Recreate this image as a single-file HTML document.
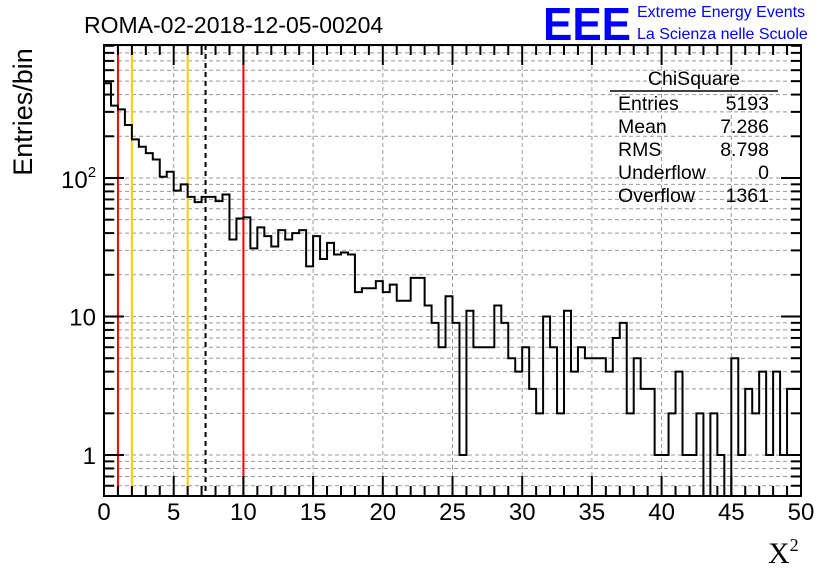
<!DOCTYPE html>
<html><head><meta charset="utf-8"><style>
body{margin:0;background:#fff;}
svg{display:block;font-family:"Liberation Sans",sans-serif;}
</style></head><body>
<svg id="c" width="836" height="572" viewBox="0 0 836 572">
<rect width="836" height="572" fill="#fff"/>
<text x="84" y="33" font-size="23" fill="#000">ROMA-02-2018-12-05-00204</text>
<text x="543" y="40" font-size="46" font-weight="bold" fill="#0000ff" textLength="88" lengthAdjust="spacingAndGlyphs">EEE</text>
<text x="637" y="17" font-size="16" fill="#0000ff">Extreme Energy Events</text>
<text x="637" y="39" font-size="16" fill="#0000ff">La Scienza nelle Scuole</text>
<text transform="translate(32,112) rotate(-90)" text-anchor="middle" font-size="27">Entries/bin</text>
<text x="768" y="563" font-size="30" font-family="Liberation Serif,serif">X<tspan font-size="18" dy="-12">2</tspan></text>
<g id="grid"></g><g id="lines"></g><g id="hist"></g><g id="axes"></g>
<g font-size="19.5">
<text x="694" y="85" text-anchor="middle">ChiSquare</text>
<line x1="610" y1="91" x2="778" y2="91" stroke="#000" stroke-width="1.5"/>
<text x="618" y="110">Entries</text><text x="769" y="110" text-anchor="end">5193</text>
<text x="618" y="133">Mean</text><text x="769" y="133" text-anchor="end">7.286</text>
<text x="618" y="156">RMS</text><text x="769" y="156" text-anchor="end">8.798</text>
<text x="618" y="179">Underflow</text><text x="769" y="179" text-anchor="end">0</text>
<text x="618" y="202">Overflow</text><text x="769" y="202" text-anchor="end">1361</text>
</g>
</svg>
<script>
const binCounts=[483,333,313,241,190,168,151,136,102,111,81,90,73,67,73,73,68,76,36,51,52,31,44,38,32,42,36,40,42,23,38,26,34,28,29,28,15,16,16,18,15,17,13,13,19,19,12,9,6,14,9,1,11,6,6,6,12,9,5,4,6,3,2,10,6,2,11,4,6,5,5,5,4,7,9,2,5,3,3,1,1,2,4,1,1,2,0,2,1,0,5,1,3,2,4,1,4,1,3,3];
const xTicks=[0,5,10,15,20,25,30,35,40,45,50];
const yTickLabels=[1,10,100];
const markerLines=[{x:1,c:"#ff0000",d:""},{x:2,c:"#ffcc00",d:""},{x:6,c:"#ffcc00",d:""},{x:7.286,c:"#000",d:"5,4"},{x:10,c:"#ff0000",d:""}];
const X0=104,X1=801,Y0=45,Y1=496,XMAX=50,BINW=0.5;
const YMIN=0.506,YMAX=912;
const ns="http://www.w3.org/2000/svg";
function sx(v){return X0+(X1-X0)*v/XMAX;}
function sy(v){const a=Math.log10(YMIN),b=Math.log10(YMAX);return Y1-(Y1-Y0)*(Math.log10(v)-a)/(b-a);}
function mk(t,at,p){const e=document.createElementNS(ns,t);for(const k in at)e.setAttribute(k,at[k]);p.appendChild(e);return e;}
const grid=document.getElementById('grid'),lines=document.getElementById('lines'),hist=document.getElementById('hist'),axes=document.getElementById('axes');
xTicks.slice(1,-1).forEach(t=>{const l=mk('line',{x1:sx(t),x2:sx(t),y1:Y0,y2:Y1,stroke:'#999','stroke-dasharray':'4,3','stroke-width':1},grid);

});
for(let d=-1;d<=2;d++)for(let m=1;m<=9;m++){const v=m*Math.pow(10,d);if(v<YMIN||v>YMAX)continue;const y=sy(v);
const l=mk('line',{x1:X0,x2:X1,y1:y,y2:y,stroke:'#999','stroke-dasharray':'4,3','stroke-width':1},grid);


const tl=(m===1)?20:10;
mk('line',{x1:X0,x2:X0+tl,y1:y,y2:y,stroke:'#000','stroke-width':2},axes);
mk('line',{x1:X1,x2:X1-tl,y1:y,y2:y,stroke:'#000','stroke-width':2},axes);}
markerLines.forEach(m=>{const l=mk('line',{x1:sx(m.x),x2:sx(m.x),y1:Y0,y2:Y1,stroke:m.c,'stroke-width':2},lines);if(m.d)l.setAttribute('stroke-dasharray',m.d);

});
let d='';binCounts.forEach((c,i)=>{const y=c>0?Math.min(sy(c),Y1):Y1;const xa=sx(i*BINW),xb=sx((i+1)*BINW);d+=(i===0?'M'+xa+','+Y1+' L':' L')+xa+','+y+' L'+xb+','+y;});
d+=' L'+sx(XMAX)+','+Y1;
const h=mk('path',{d:d,fill:'none',stroke:'#000','stroke-width':2},hist);


const fr=mk('rect',{x:X0,y:Y0,width:X1-X0,height:Y1-Y0,fill:'none',stroke:'#000','stroke-width':2},axes);


for(let v=0;v<=XMAX+0.01;v+=1){const x=sx(v);const tl=(v%5===0)?20:10;
mk('line',{x1:x,x2:x,y1:Y1,y2:Y1-tl,stroke:'#000','stroke-width':2},axes);
mk('line',{x1:x,x2:x,y1:Y0,y2:Y0+tl,stroke:'#000','stroke-width':2},axes);}
xTicks.forEach(t=>{const tx=mk('text',{x:sx(t),y:520,'text-anchor':'middle','font-size':24},axes);tx.textContent=t;

});
yTickLabels.forEach(t=>{const y=sy(t)+9;let tx;
if(t===100){tx=mk('text',{x:61,y:y+1,'font-size':24},axes);tx.innerHTML='10<tspan font-size="15" dy="-11">2</tspan>';}
else{tx=mk('text',{x:96,y:y,'text-anchor':'end','font-size':24},axes);tx.textContent=t;}

});
</script>
</body></html>
